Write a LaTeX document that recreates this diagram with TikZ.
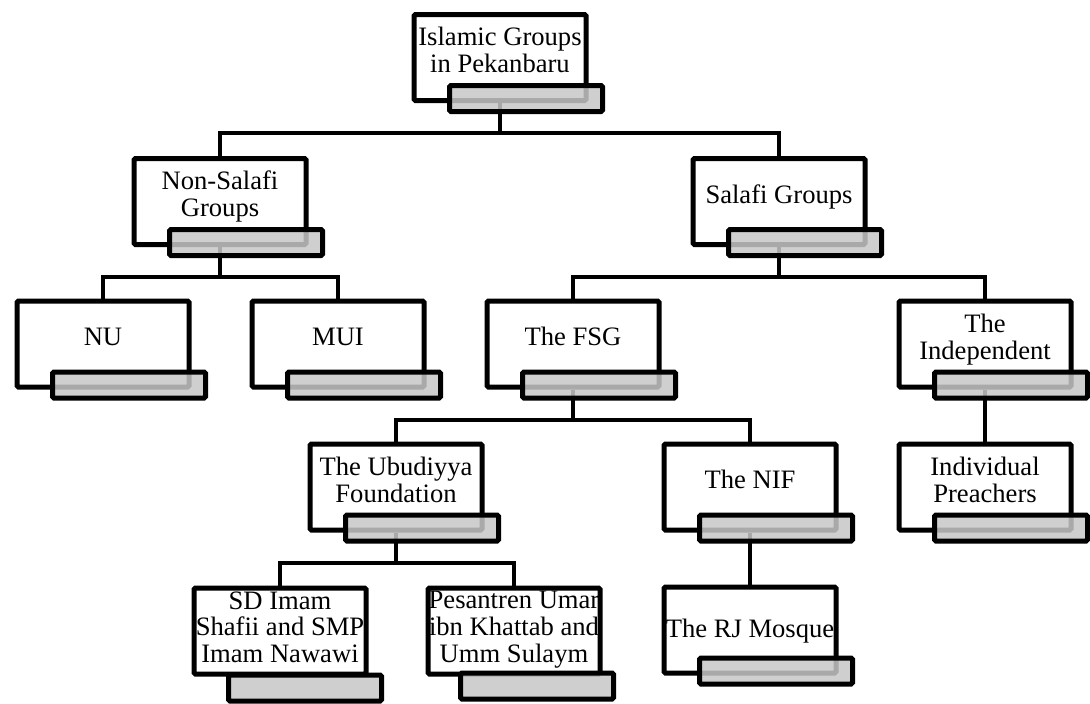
\documentclass[tikz,border=0pt]{standalone}
\usepackage{fontspec}
\setmainfont{Liberation Serif}
\usepackage{tikz}
\usetikzlibrary{positioning}

\tikzset{
  orgbox/.style={shape=rectangle,draw,line width=5pt,rounded corners=1.5pt,fill=white,
    minimum width=172pt,minimum height=86pt,inner sep=0pt,align=center,text depth=15pt,
    font=\fontsize{26.6}{26.8}\selectfont},
  tabbox/.style={shape=rectangle,draw,line width=5pt,rounded corners=1.5pt,
    fill=black!22,fill opacity=0.85,minimum width=153pt,minimum height=26pt},
  link/.style={line width=4pt}
}

\begin{document}
\begin{tikzpicture}[x=1pt,y=-1pt]
    \useasboundingbox (0,0) rectangle (1090,704);
    % boxes, row by row
	\node (root) at (500,57.5) [orgbox] {Islamic Groups\\in Pekanbaru};
	\node (nonsalafi) at (220,201.5) [orgbox] {Non-Salafi\\Groups};
	\node (salafi) at (779,201.5) [orgbox] {Salafi Groups};
	\node (nu) at (103,344) [orgbox] {NU};
	\node (mui) at (338,344) [orgbox] {MUI};
	\node (fsg) at (573,344) [orgbox] {The FSG};
	\node (indep) at (985,344) [orgbox] {The\\Independent};
	\node (ubud) at (396,487) [orgbox] {The Ubudiyya\\Foundation};
	\node (nif) at (750,487) [orgbox] {The NIF};
	\node (preach) at (985,487) [orgbox] {Individual\\Preachers};
	\node (sd) at (280,631) [orgbox,text depth=8pt] {SD Imam\\Shafii and SMP\\Imam Nawawi};
	\node (pes) at (514,631) [orgbox,text depth=8pt] {Pesantren Umar\\ibn Khattab and\\Umm Sulaym};
	\node (rj) at (750,630) [orgbox,text depth=4pt] {The RJ Mosque};
    % connectors
	\foreach \p/\c in {root/nonsalafi,root/salafi,nonsalafi/nu,nonsalafi/mui,salafi/fsg,salafi/indep,fsg/ubud,fsg/nif,ubud/sd,ubud/pes}
	\draw[link] (\p.south) -- ++(0,30) -| (\c.north);
	\draw[link] (indep.south) -- (preach.north);
	\draw[link] (nif.south) -- (rj.north);
    % grey tabs on top
	\foreach \n in {root,nonsalafi,salafi,nu,mui,fsg,indep,ubud,nif,preach,rj}
	\node (\n-tab) at (\n.center) [tabbox,xshift=26pt,yshift=-41pt] {};
	\node (sd-tab) at (sd.center) [tabbox,xshift=25pt,yshift=-57pt] {};
	\node (pes-tab) at (pes.center) [tabbox,xshift=23pt,yshift=-55pt] {};
\end{tikzpicture}
\end{document}
